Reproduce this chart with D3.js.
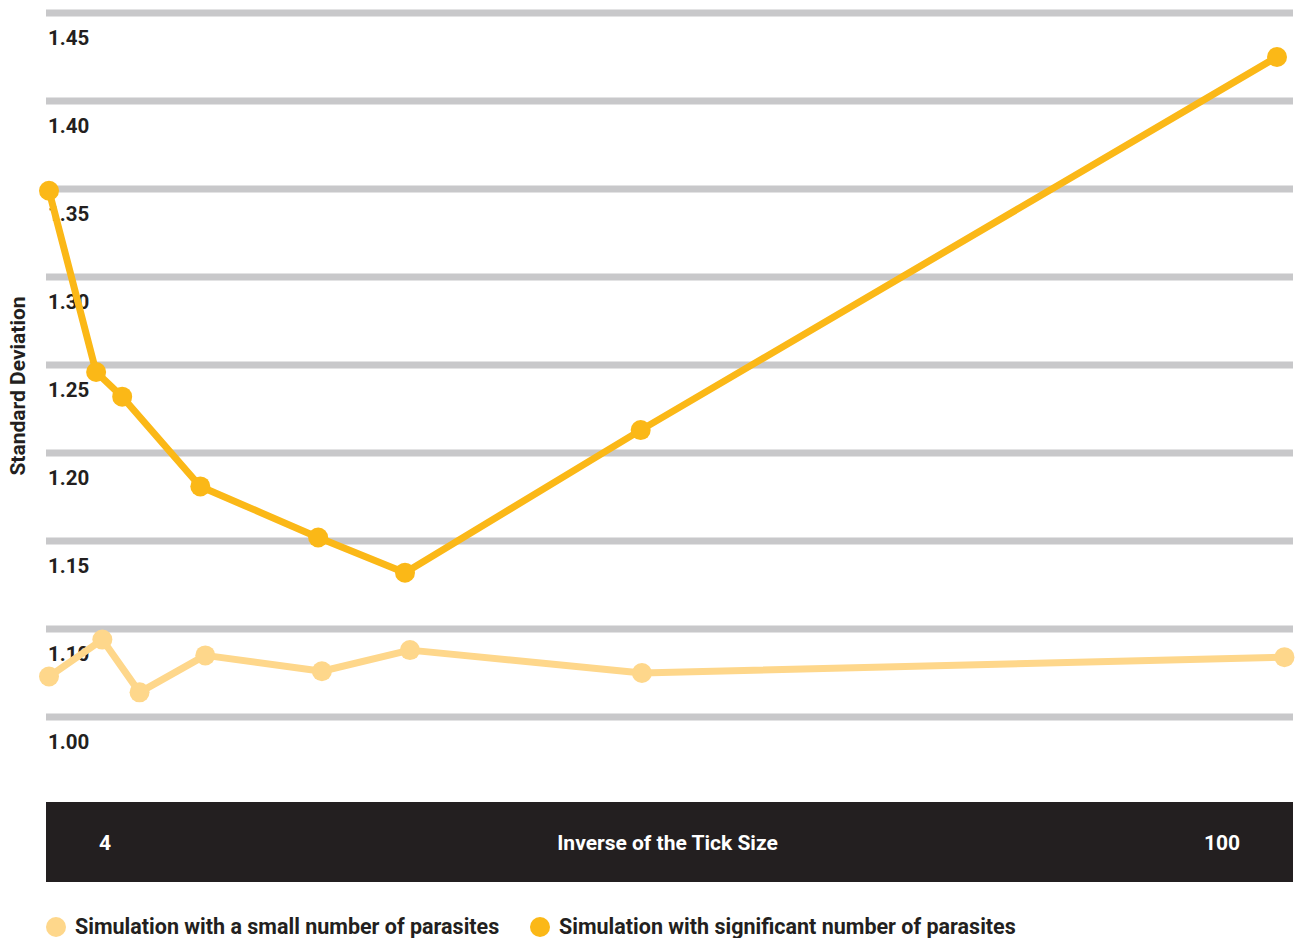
<!DOCTYPE html>
<html>
<head>
<meta charset="utf-8">
<script src="https://cdn.jsdelivr.net/npm/d3@7"></script>
<style>
  body { margin: 0; background: #fff; }
  text { font-family: Roboto, "Noto Sans", sans-serif; font-weight: 700; }
</style>
</head>
<body>
<div id="chart"></div>
<script>
// ---------------- data ----------------
var smallX = [1, 5.3, 8.3, 13.6, 23, 30.1, 48.8, 100.6];
var smallY = [1.073, 1.094, 1.064, 1.085, 1.076, 1.088, 1.075, 1.084];

var sigX = [1, 4.8, 6.9, 13.2, 22.7, 29.7, 48.7, 100];
var sigY = [1.349, 1.246, 1.232, 1.181, 1.152, 1.132, 1.213, 1.425];

var gridValues = [1.45, 1.40, 1.35, 1.30, 1.25, 1.20, 1.15, 1.10, 1.05];
var tickLabels = ["1.45", "1.40", "1.35", "1.30", "1.25", "1.20", "1.15", "1.10", "1.00"];
var bandLabels = ["4", "Inverse of the Tick Size", "100"];

var seriesNames = ["Simulation with a small number of parasites", "Simulation with significant number of parasites"];
var seriesColors = ["#fed78b", "#fbb817"];

// ---------------- svg ----------------
var svgWidth = 1299, svgHeight = 938;
var svg = d3.select("#chart").append("svg")
  .attr("width", svgWidth).attr("height", svgHeight);

var plotLeft = 46, plotRight = 1293;

var yScale = d3.scaleLinear().domain([1.05, 1.45]).range([717, 13]);
var xScale = d3.scaleLinear().domain([1, 100]).range([49, 1277]);

// gridlines
svg.selectAll("line.grid")
  .data(gridValues)
  .enter().append("line")
  .attr("class", "grid")
  .attr("x1", plotLeft).attr("x2", plotRight)
  .attr("y1", d => yScale(d)).attr("y2", d => yScale(d))
  .attr("stroke", "#c8c8ca")
  .attr("stroke-width", 7);

// tick labels sit under each gridline
svg.selectAll("text.ytick")
  .data(gridValues)
  .enter().append("text")
  .attr("class", "ytick")
  .attr("x", 48)
  .attr("y", d => yScale(d) + 32)
  .attr("font-size", 20.5)
  .attr("fill", "#231f20")
  .text((d, i) => tickLabels[i]);

// y title
svg.append("text")
  .attr("transform", "translate(25,386) rotate(-90)")
  .attr("text-anchor", "middle")
  .attr("font-size", 21)
  .attr("fill", "#231f20")
  .text("Standard Deviation");

// dark x band
svg.append("rect")
  .attr("x", plotLeft).attr("y", 802)
  .attr("width", plotRight - plotLeft).attr("height", 80)
  .attr("fill", "#231f20");

var bandScale = d3.scalePoint().domain(bandLabels).range([105, 1222]);
svg.selectAll("text.band")
  .data(bandLabels)
  .enter().append("text")
  .attr("class", "band")
  .attr("x", (d, i) => bandScale(d) + (i == 1 ? 4 : 0))
  .attr("y", 850)
  .attr("text-anchor", "middle")
  .attr("font-size", 21)
  .attr("fill", "#ffffff")
  .text(d => d);

// ---------------- lines + points ----------------
var series = [
  smallX.map((x, i) => ({x: x, y: smallY[i]})),
  sigX.map((x, i) => ({x: x, y: sigY[i]}))
];

var line = d3.line().x(d => xScale(d.x)).y(d => yScale(d.y));

series.forEach(function (pts, s) {
  svg.append("path")
    .datum(pts)
    .attr("d", line)
    .attr("fill", "none")
    .attr("stroke", seriesColors[s])
    .attr("stroke-width", 7)
    .attr("stroke-linejoin", "round");

  svg.selectAll("circle.s" + s)
    .data(pts)
    .enter().append("circle")
    .attr("class", "s" + s)
    .attr("cx", d => xScale(d.x))
    .attr("cy", d => yScale(d.y))
    .attr("r", 10)
    .attr("fill", seriesColors[s]);
});

// ---------------- legend ----------------
var legendX = [56, 540];
seriesNames.forEach(function (name, i) {
  svg.append("circle")
    .attr("cx", legendX[i]).attr("cy", 927)
    .attr("r", 10)
    .attr("fill", seriesColors[i]);
  svg.append("text")
    .attr("x", legendX[i] + 19).attr("y", 934)
    .attr("font-size", 21.5)
    .attr("fill", "#231f20")
    .text(name);
});
</script>
</body>
</html>
